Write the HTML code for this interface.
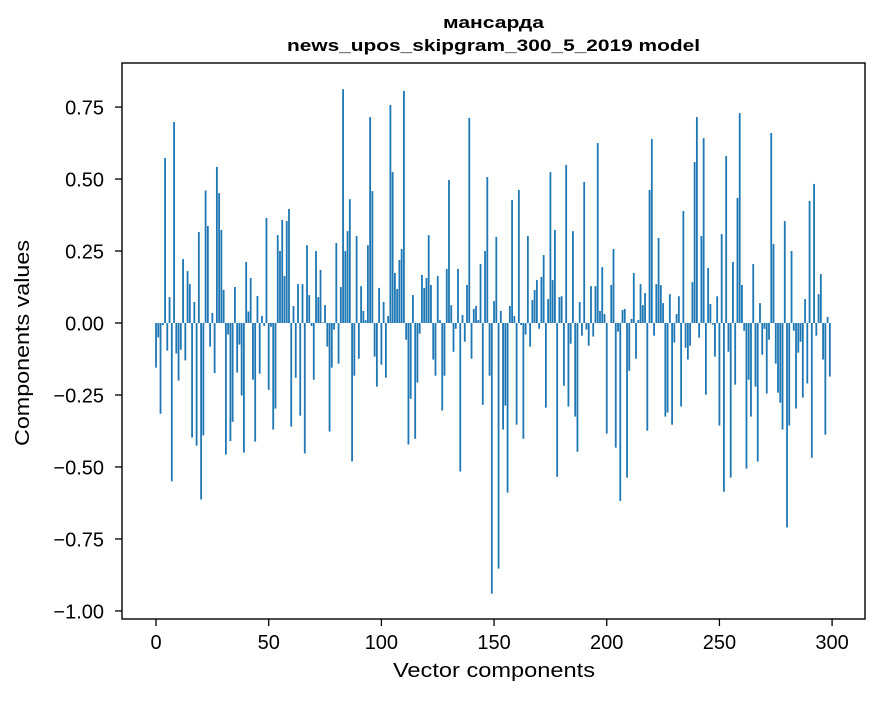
<!DOCTYPE html>
<html><head><meta charset="utf-8"><style>
body{margin:0;background:#fff;}
svg text{font-family:"Liberation Sans","DejaVu Sans",sans-serif;}
</style></head><body>
<svg id="chart" width="880" height="696" viewBox="0 0 880 696" xmlns="http://www.w3.org/2000/svg">
<rect width="880" height="696" fill="#fff"/>
<g id="bars"></g>
<g id="axes"></g>
<text x="493.5" y="28" text-anchor="middle" font-size="17" font-weight="bold" textLength="101" lengthAdjust="spacingAndGlyphs">мансарда</text>
<text x="493.5" y="51" text-anchor="middle" font-size="17" font-weight="bold" textLength="413" lengthAdjust="spacingAndGlyphs">news_upos_skipgram_300_5_2019 model</text>
<text x="494" y="677" text-anchor="middle" font-size="20" textLength="202" lengthAdjust="spacingAndGlyphs">Vector components</text>
<text transform="translate(29,343) rotate(-90)" text-anchor="middle" font-size="20" textLength="206" lengthAdjust="spacingAndGlyphs">Components values</text>
</svg>
<script>
const values=[-0.155,-0.05,-0.315,-0.007,0.573,-0.096,0.09,-0.55,0.698,-0.106,-0.2,-0.093,0.222,-0.13,0.18,0.135,-0.398,0.073,-0.426,0.316,
-0.613,-0.39,0.46,0.337,-0.082,0.035,-0.174,0.542,0.451,0.323,0.115,-0.457,-0.04,-0.41,-0.343,0.125,-0.172,-0.075,-0.252,-0.45,
0.212,0.04,0.156,-0.197,-0.412,0.094,-0.176,0.024,-0.01,0.365,-0.232,-0.013,-0.37,-0.297,0.305,0.25,0.358,0.163,0.354,0.396,
-0.36,0.059,-0.19,0.135,-0.322,0.135,-0.453,0.27,0.097,-0.01,-0.197,0.25,0.09,0.184,0.002,0.062,-0.082,-0.377,-0.155,-0.023,
0.278,-0.141,0.125,0.812,0.25,0.319,0.43,-0.481,-0.183,0.302,-0.124,0.128,0.042,0.01,0.27,0.715,0.458,-0.117,-0.221,0.122,
-0.145,0.073,-0.19,0.024,0.757,0.524,0.174,0.118,0.219,0.257,0.806,-0.058,-0.422,-0.263,0.097,-0.402,-0.207,-0.037,0.167,0.122,
0.156,0.305,0.132,-0.127,-0.183,0.163,0.01,-0.304,-0.183,0.188,0.497,0.062,-0.1,-0.02,0.188,-0.516,0.028,-0.065,0.132,0.712,
-0.124,0.049,0.059,0.01,0.205,-0.284,0.25,0.507,-0.183,-0.94,0.076,0.299,-0.853,0.042,-0.37,-0.287,-0.589,0.059,0.427,0.024,
-0.353,0.462,-0.007,-0.402,-0.04,0.302,-0.082,0.08,0.115,0.149,-0.02,0.16,0.236,-0.294,0.083,0.524,0.149,0.323,-0.534,0.09,
0.093,-0.218,0.549,-0.29,-0.072,0.319,-0.325,-0.447,0.073,-0.044,0.49,-0.023,-0.079,0.128,-0.047,0.128,0.625,0.042,0.194,0.031,
-0.384,0.0,0.132,0.257,-0.433,-0.03,-0.618,0.045,0.049,-0.537,-0.166,0.014,0.174,-0.124,0.01,0.135,0.062,0.104,-0.374,0.462,
0.639,-0.044,0.135,0.295,0.132,0.069,-0.325,-0.311,0.1,-0.353,-0.068,0.031,0.093,-0.29,0.389,-0.086,-0.127,-0.079,0.142,0.559,
0.715,-0.051,0.302,0.642,-0.249,0.191,0.066,-0.006,-0.117,0.093,-0.356,0.309,-0.586,0.58,-0.1,-0.537,0.212,-0.214,0.434,0.729,
0.132,-0.027,-0.506,-0.197,-0.325,0.205,-0.221,-0.481,0.069,-0.11,-0.02,-0.245,-0.058,0.66,0.274,-0.141,-0.242,-0.277,-0.37,0.354,
-0.71,-0.356,0.25,-0.027,-0.297,-0.103,-0.065,-0.259,0.083,-0.21,0.424,-0.468,0.483,-0.044,0.1,0.17,-0.127,-0.388,0.021,-0.186];
const xTicks=[0,50,100,150,200,250,300];
const yTicks=[0.75,0.5,0.25,0,-0.25,-0.5,-0.75,-1.0];
const yTickLabels=["0.75","0.50","0.25","0.00","\u22120.25","\u22120.50","\u22120.75","\u22121.00"];

const L=122,R=865,T=63,B=619;
const xMin=-15.1,xMax=314.6,yMin=-1.028,yMax=0.903;
const xs=v=>L+(v-xMin)/(xMax-xMin)*(R-L);
const ys=v=>B-(v-yMin)/(yMax-yMin)*(B-T);
const NS="http://www.w3.org/2000/svg";
const bars=document.getElementById('bars');
const bw=(xs(0.8)-xs(0));
values.forEach((v,i)=>{
  const r=document.createElementNS(NS,'rect');
  const y0=ys(0),y1=ys(v);
  r.setAttribute('x',xs(i)-bw/2);
  r.setAttribute('y',Math.min(y0,y1));
  r.setAttribute('width',bw);
  r.setAttribute('height',Math.max(Math.abs(y1-y0),0.01));
  r.setAttribute('fill','#1f77b4');
  
  
  bars.appendChild(r);
});
const ax=document.getElementById('axes');
ax.innerHTML='<rect x="'+L+'" y="'+T+'" width="'+(R-L)+'" height="'+(B-T)+'" fill="none" stroke="#000" stroke-width="1.4"/>';
const frame=ax.firstChild;


xTicks.forEach(t=>{
  const x=xs(t);
  const l=document.createElementNS(NS,'line');
  l.setAttribute('x1',x);l.setAttribute('x2',x);l.setAttribute('y1',B);l.setAttribute('y2',B+7);
  l.setAttribute('stroke','#000');l.setAttribute('stroke-width','1.3');
  
  
  ax.appendChild(l);
  const tx=document.createElementNS(NS,'text');
  tx.setAttribute('x',x);tx.setAttribute('y',649);tx.setAttribute('text-anchor','middle');tx.setAttribute('font-size','20');
  tx.textContent=String(t);
  
  
  ax.appendChild(tx);
});
yTicks.forEach((t,i)=>{
  const y=ys(t);
  const l=document.createElementNS(NS,'line');
  l.setAttribute('x1',L-7);l.setAttribute('x2',L);l.setAttribute('y1',y);l.setAttribute('y2',y);
  l.setAttribute('stroke','#000');l.setAttribute('stroke-width','1.3');
  
  
  ax.appendChild(l);
  const tx=document.createElementNS(NS,'text');
  tx.setAttribute('x',104);tx.setAttribute('y',y+7.5);tx.setAttribute('text-anchor','end');tx.setAttribute('font-size','20');
  tx.textContent=yTickLabels[i];
  
  
  ax.appendChild(tx);
});
</script>
</body></html>
